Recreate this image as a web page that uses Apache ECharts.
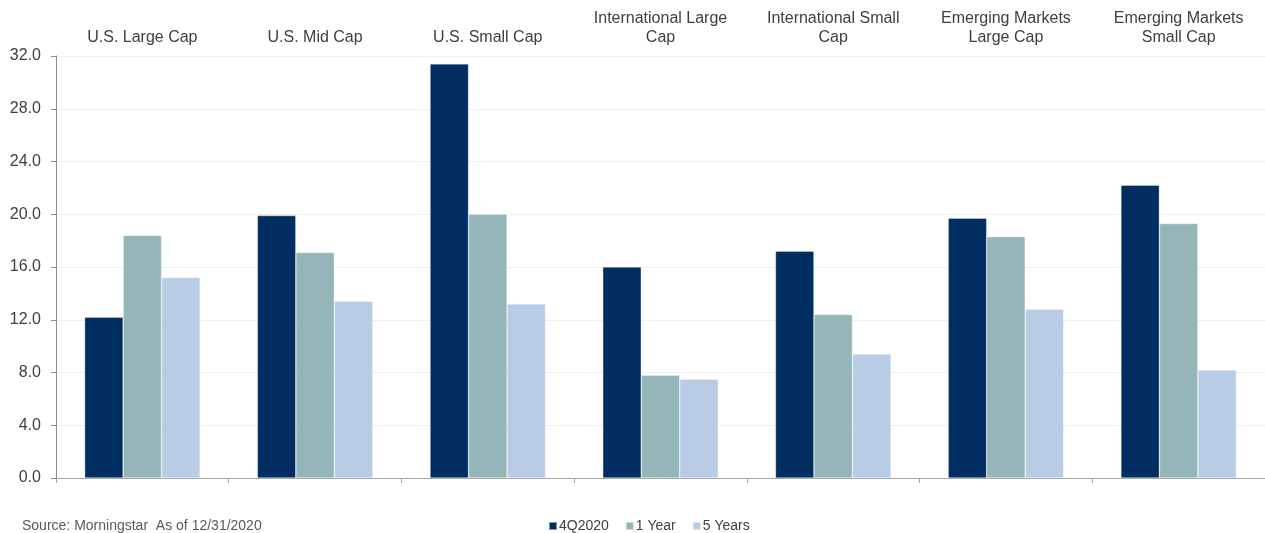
<!DOCTYPE html>
<html>
<head>
<meta charset="utf-8">
<script src="https://cdn.jsdelivr.net/npm/echarts@6/dist/echarts.min.js"></script>
<style>
  html, body { margin: 0; padding: 0; background: #fff; }
  #chart { width: 1265px; height: 533px; }
</style>
</head>
<body>
<div id="chart"></div>
<script>
// Asset class returns (%)
const categories = [
  'U.S. Large Cap',
  'U.S. Mid Cap',
  'U.S. Small Cap',
  'International Large\nCap',
  'International Small\nCap',
  'Emerging Markets\nLarge Cap',
  'Emerging Markets\nSmall Cap'
];
const q4_2020 = [12.2, 19.9, 31.4, 16.0, 17.2, 19.7, 22.2];
const oneYear = [18.4, 17.1, 20.0, 7.8, 12.4, 18.3, 19.3];
const fiveYears = [15.2, 13.4, 13.2, 7.5, 9.4, 12.8, 8.2];
const yTicks = { min: 0, max: 32, interval: 4 };

const font = 'Liberation Sans, Arial, sans-serif';
const colors = ['#002E62', '#95B6B8', '#B8CCE6'];

const chart = echarts.init(document.getElementById('chart'));

function barSeries(name, data, color) {
  return {
    name: name,
    type: 'bar',
    data: data,
    xAxisIndex: 0,
    barWidth: 38.5,
    barGap: '0%',
    itemStyle: { color: color, borderColor: 'rgba(255,255,255,0.5)', borderWidth: 0.6 }
  };
}

chart.setOption({
  animation: false,
  color: colors,
  textStyle: { fontFamily: font },
  grid: { left: 56, right: 0, top: 56, bottom: 55, containLabel: false },
  xAxis: [
    {
      type: 'category',
      data: categories,
      position: 'bottom',
      boundaryGap: true,
      axisLine: { lineStyle: { color: '#A6A6A6', width: 1 } },
      axisTick: { show: true, length: 5, lineStyle: { color: '#A6A6A6' } },
      axisLabel: { show: false }
    },
    {
      type: 'category',
      data: categories,
      position: 'top',
      axisLine: { show: false },
      axisTick: { show: false },
      axisLabel: {
        margin: 12,
        fontSize: 16,
        lineHeight: 19,
        color: '#404040',
        fontFamily: font,
        interval: 0,
        align: 'center',
        verticalAlign: 'bottom',
        padding: [0, 0, -3, 0]
      }
    }
  ],
  yAxis: {
    type: 'value',
    min: yTicks.min,
    max: yTicks.max,
    interval: yTicks.interval,
    axisLine: { show: true, lineStyle: { color: '#8C8C8C' } },
    axisTick: { show: true, length: 5, lineStyle: { color: '#8C8C8C' } },
    axisLabel: {
      margin: 15,
      fontSize: 16,
      color: '#404040',
      fontFamily: font,
      formatter: v => v.toFixed(1)
    },
    splitLine: { show: true, lineStyle: { color: '#EEEEEE', width: 1 } }
  },
  legend: {
    left: 543,
    top: 514,
    itemWidth: 8,
    itemHeight: 8,
    itemGap: 16,
    icon: 'rect',
    textStyle: { fontSize: 14, color: '#404040', fontFamily: font, padding: [0, 0, 0, -3] },
    data: ['4Q2020', '1 Year', '5 Years']
  },
  graphic: [
    {
      type: 'text',
      left: 22,
      top: 519,
      style: {
        text: 'Source: Morningstar  As of 12/31/2020',
        fontSize: 14,
        fill: '#595959',
        fontFamily: font
      }
    }
  ],
  series: [
    barSeries('4Q2020', q4_2020, colors[0]),
    barSeries('1 Year', oneYear, colors[1]),
    barSeries('5 Years', fiveYears, colors[2])
  ]
});
</script>
</body>
</html>
